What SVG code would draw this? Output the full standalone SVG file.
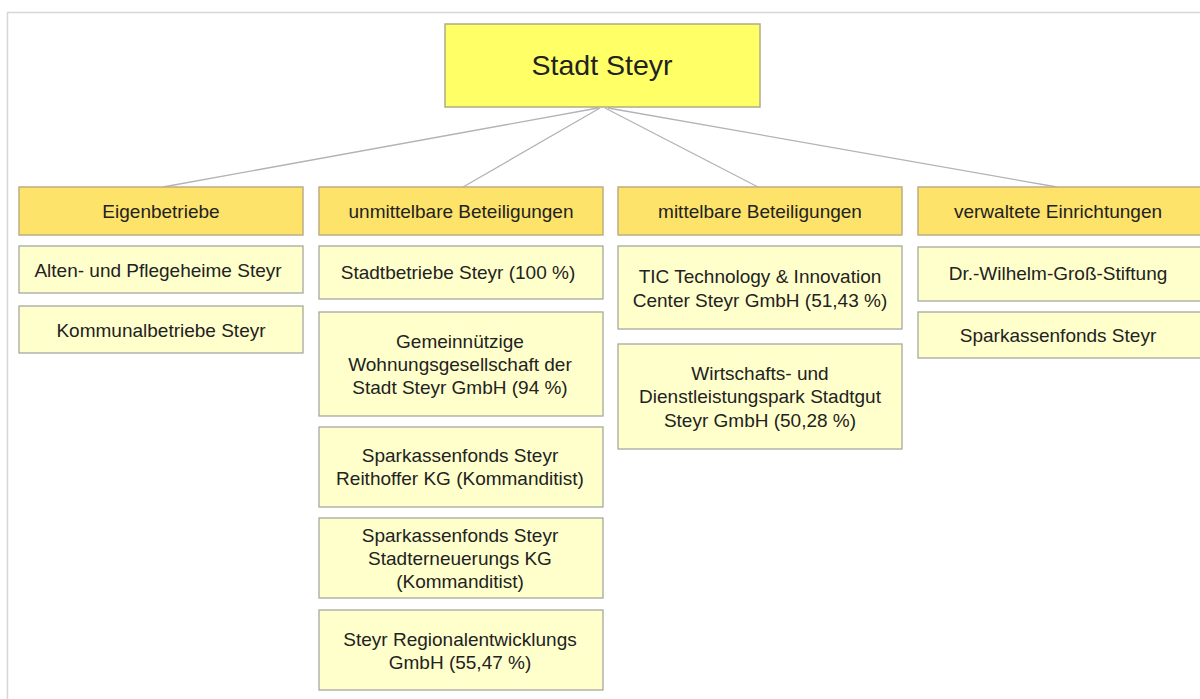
<svg xmlns="http://www.w3.org/2000/svg" width="1200" height="699" viewBox="0 0 1200 699">
<style>
text{font-family:"Liberation Sans",Arial,sans-serif;fill:#222;text-anchor:middle}
.t{font-size:19px}
.root rect{fill:#ffff66;stroke:#b0ab8c;stroke-width:1.5}
.hdr rect{fill:#fee36a;stroke:#bcae82;stroke-width:1.5}
.item rect{fill:#ffffcc;stroke:#a8a8a0;stroke-width:1.3}
.conn line{stroke:#b3b3b3;stroke-width:1.3}
</style>
<rect width="1200" height="699" fill="#fff"/>
<path d="M7.5,699 V12.5 H1200" fill="none" stroke="#d6d6d6" stroke-width="1.5"/>
<g class="conn">
<line x1="598" y1="108" x2="163" y2="187"/>
<line x1="600" y1="108" x2="463" y2="187"/>
<line x1="605" y1="108" x2="758" y2="187"/>
<line x1="608" y1="108" x2="1057" y2="187"/>
</g>
<g id="root" class="root"><rect x="445" y="24" width="315" height="83"/><text x="602" y="75" font-size="28.5">Stadt Steyr</text></g>
<g id="h1" class="hdr"><rect x="19" y="187" width="284" height="48"/><text class="t" x="161" y="218">Eigenbetriebe</text></g>
<g id="h2" class="hdr"><rect x="319" y="187" width="284" height="48"/><text class="t" x="461" y="218">unmittelbare  Beteiligungen</text></g>
<g id="h3" class="hdr"><rect x="618" y="187" width="284" height="48"/><text class="t" x="760" y="218">mittelbare Beteiligungen</text></g>
<g id="h4" class="hdr"><rect x="918" y="187" width="284" height="48"/><text class="t" x="1058" y="218">verwaltete  Einrichtungen</text></g>
<g id="c1a" class="item"><rect x="19" y="246" width="284" height="47"/><text class="t" x="158" y="277">Alten-  und  Pflegeheime Steyr</text></g>
<g id="c1b" class="item"><rect x="19" y="306" width="284" height="47"/><text class="t" x="161" y="337">Kommunalbetriebe Steyr</text></g>
<g id="c2a" class="item"><rect x="319" y="246" width="284" height="53"/><text class="t" x="458" y="279">Stadtbetriebe Steyr (100 %)</text></g>
<g id="c2b" class="item"><rect x="319" y="312" width="284" height="104"/><text class="t" x="460"><tspan x="460" y="348">Gemeinnützige</tspan><tspan x="460" y="371">Wohnungsgesellschaft  der</tspan><tspan x="460" y="394">Stadt Steyr GmbH (94 %)</tspan></text></g>
<g id="c2c" class="item"><rect x="319" y="427" width="284" height="80"/><text class="t" x="460"><tspan x="460" y="462">Sparkassenfonds Steyr</tspan><tspan x="460" y="485">Reithoffer KG (Kommanditist)</tspan></text></g>
<g id="c2d" class="item"><rect x="319" y="518" width="284" height="80"/><text class="t" x="460"><tspan x="460" y="542">Sparkassenfonds Steyr</tspan><tspan x="460" y="565">Stadterneuerungs  KG</tspan><tspan x="460" y="588">(Kommanditist)</tspan></text></g>
<g id="c2e" class="item"><rect x="319" y="610" width="284" height="80"/><text class="t" x="460"><tspan x="460" y="646">Steyr Regionalentwicklungs</tspan><tspan x="460" y="669">GmbH (55,47 %)</tspan></text></g>
<g id="c3a" class="item"><rect x="618" y="246" width="284" height="83"/><text class="t" x="760"><tspan x="760" y="283">TIC Technology  &amp; Innovation</tspan><tspan x="760" y="307">Center Steyr GmbH (51,43 %)</tspan></text></g>
<g id="c3b" class="item"><rect x="618" y="344" width="284" height="105"/><text class="t" x="760"><tspan x="760" y="380">Wirtschafts-  und</tspan><tspan x="760" y="403">Dienstleistungspark Stadtgut</tspan><tspan x="760" y="427">Steyr GmbH (50,28 %)</tspan></text></g>
<g id="c4a" class="item"><rect x="918" y="247" width="284" height="54"/><text class="t" x="1058" y="280">Dr.-Wilhelm-Groß-Stiftung</text></g>
<g id="c4b" class="item"><rect x="918" y="312" width="284" height="46"/><text class="t" x="1058" y="342">Sparkassenfonds Steyr</text></g>
</svg>
